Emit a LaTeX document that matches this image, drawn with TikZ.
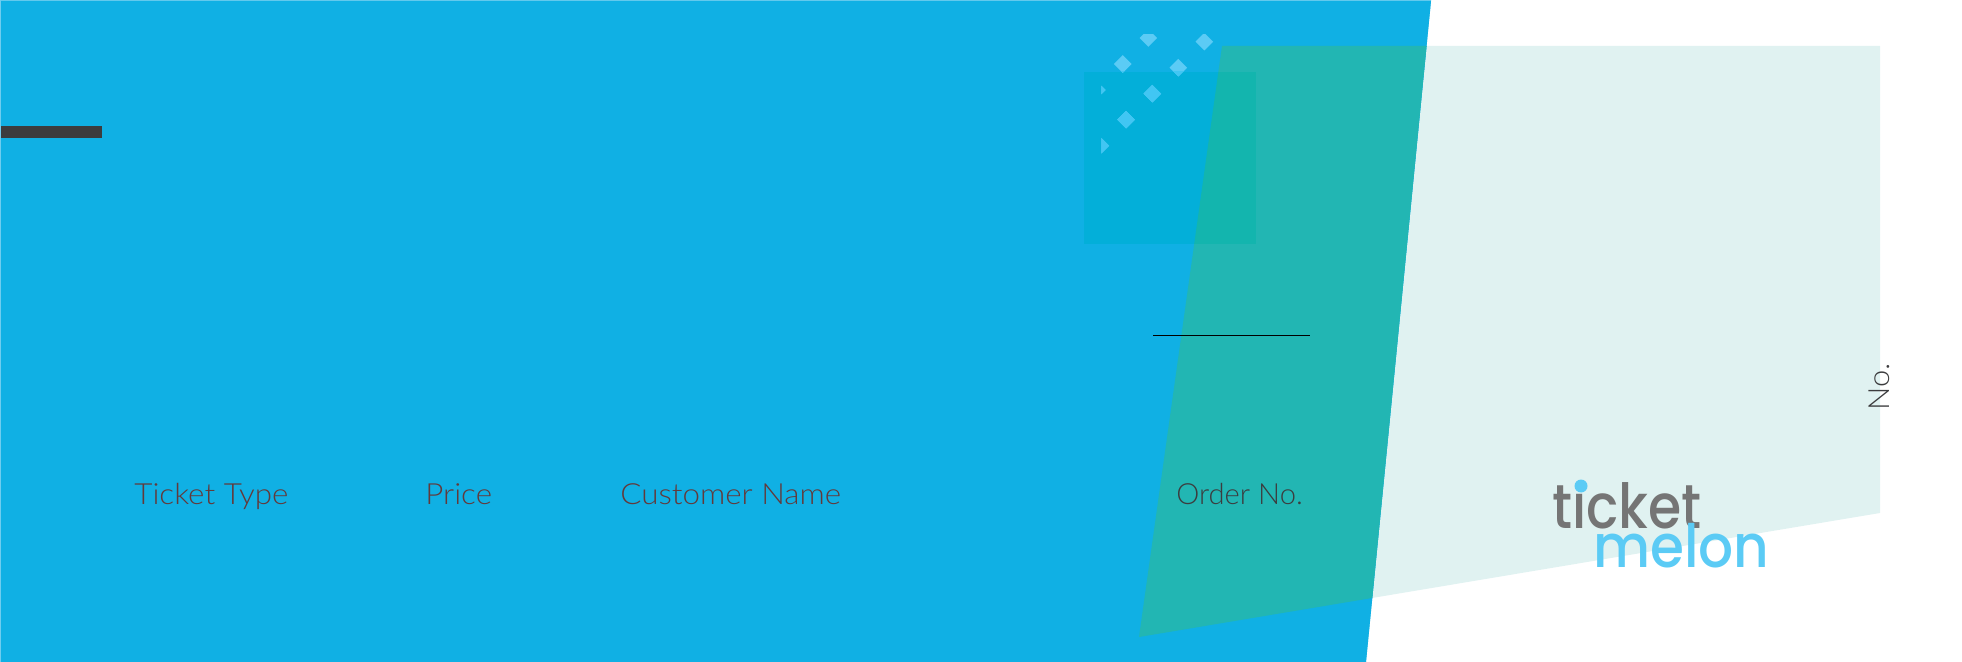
\documentclass[tikz,border=0pt]{standalone}
\usepackage{fontspec}
\setmainfont{Lato Light}
\newfontfamily\logofont{Poppins Medium}
\usetikzlibrary{positioning}
\definecolor{ticketblue}{HTML}{10B0E4}
\definecolor{rimblue}{HTML}{6FCDEF}
\definecolor{palegreen}{HTML}{E0F2F1}
\definecolor{overlapteal}{HTML}{22B6B3}
\definecolor{squareblue}{HTML}{03AFD9}
\definecolor{squareteal}{HTML}{13B5AE}
\definecolor{dotlight}{HTML}{5BCBF5}
\definecolor{dotdark}{HTML}{41C6F3}
\definecolor{logogray}{HTML}{757575}
\definecolor{barcolor}{HTML}{3C3C3E}
\definecolor{labelcolor}{HTML}{63393A}
\tikzset{
  fieldlabel/.style={anchor=base west, inner sep=0pt, text=labelcolor, font=\fontsize{16.6}{20}\selectfont},
  widelabel/.style={fieldlabel, xscale=1.075},
  logotext/.style={anchor=base west, inner sep=0pt, font=\logofont\fontsize{34}{40}\selectfont}
}
\begin{document}
\begin{tikzpicture}[x=0.02cm, y=-0.02cm]
    \useasboundingbox (0,0) rectangle (1962,662);

    % Corner points of the two big shapes
    \coordinate (BTL) at (1,1);
    \coordinate (BTR) at (1431,1);
    \coordinate (BBR) at (1366,662);
    \coordinate (BBL) at (1,662);
    \coordinate (PTL) at (1222,46);
    \coordinate (PTR) at (1880,46);
    \coordinate (PBR) at (1880,513);
    \coordinate (PBL) at (1139,637);
    \def\bluepath{(BTL) -- (BTR) -- (BBR) -- (BBL) -- cycle}
    \def\palepath{(PTL) -- (PTR) -- (PBR) -- (PBL) -- cycle}
    \def\dotlist{1148.3/38, 1204.3/41.7, 1122.7/64, 1178.3/67.7, 1152.3/93.7, 1126/119.7, 1096.7/90, 1100.3/145.7}

    % Pale panel and blue ticket
    \fill[palegreen] \palepath;
    \fill[rimblue] (0,0) -- (1431,0) -- (1431,1) -- (1366,662) -- (0,662) -- cycle;
    \fill[ticketblue] \bluepath;
    \begin{scope}
        \clip \bluepath;
        \fill[overlapteal] \palepath;
    \end{scope}

    % Square behind the dots
    \fill[squareblue] (1084,72) rectangle (1256,244);
    \begin{scope}
        \clip \palepath;
        \fill[squareteal] (1084,72) rectangle (1256,244);
    \end{scope}

    % Dots, cut at the left and the top
    \begin{scope}
        \clip (1101.3,34.3) rectangle (1256,244);
        \foreach \x/\y in \dotlist
            \fill[dotlight] (\x-8.8,\y) -- (\x,\y-8.8) -- (\x+8.8,\y) -- (\x,\y+8.8) -- cycle;
        \clip (1084,72) rectangle (1256,244);
        \foreach \x/\y in \dotlist
            \fill[dotdark] (\x-8.8,\y) -- (\x,\y-8.8) -- (\x+8.8,\y) -- (\x,\y+8.8) -- cycle;
    \end{scope}

    % Bar and signature line
    \fill[barcolor] (1,126) rectangle (102,138);
    \coordinate (LineL) at (1153,335.5);
    \coordinate (LineR) at (1310,335.5);
    \draw[black, line width=0.6pt] (LineL) -- (LineR);

    % Field labels
    \node[widelabel] (tickettype) at (134,504) {Ticket Type};
    \node[widelabel] (price) at (425,504) {Price};
    \node[widelabel] (customer) at (620,504) {Customer Name};
    \node[fieldlabel, text=barcolor] (orderno) at (1176,504) {Order No.};
    \node[fieldlabel, text=barcolor, rotate=90, xscale=1.06] (stubno) at (1889,411) {No.};

    % Logo
    \node[logotext, text=logogray, xscale=0.9, yscale=1.04] (logoticket) at (1552,528) {t\i cket};
    \node[logotext, text=dotlight, xscale=0.92] (logomelon) at (1593,567) {melon};
    \fill[dotlight] (1581,486) circle (6.5);
\end{tikzpicture}
\end{document}
